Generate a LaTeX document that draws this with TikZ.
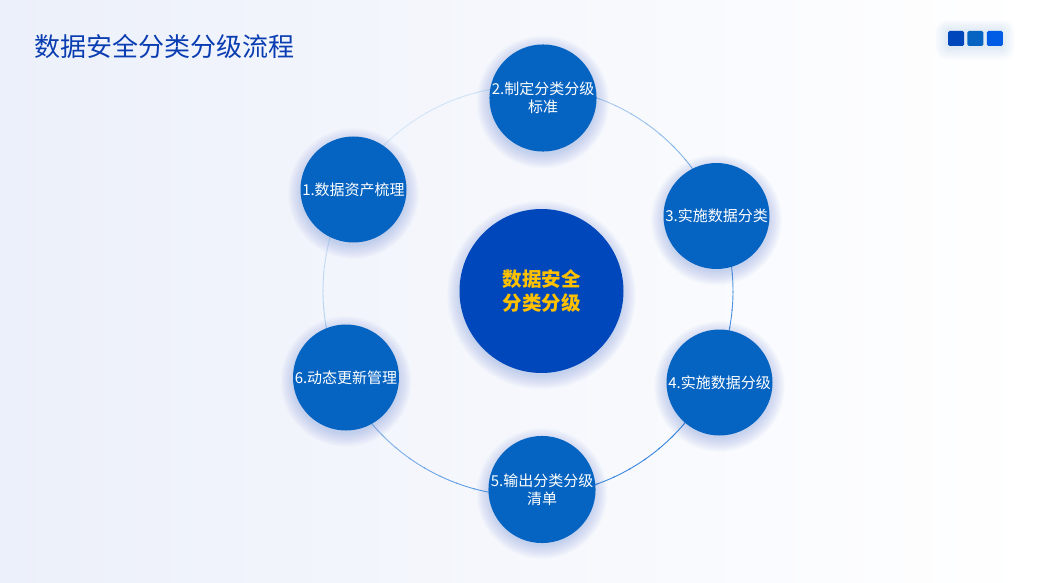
\documentclass[tikz,border=0pt]{standalone}
\usepackage{fontspec}
\setmainfont{Noto Sans CJK SC}
\usetikzlibrary{positioning}
\definecolor{titleblue}{HTML}{0A3DB2}
\definecolor{stepblue}{HTML}{0563C1}
\definecolor{coreblue}{HTML}{0047BB}
\definecolor{coreyellow}{HTML}{FFC000}
\definecolor{ringblue}{HTML}{2F7FDC}
\definecolor{bgblue}{HTML}{ECF0FA}
\definecolor{glowblue}{HTML}{2F64D0}

\begin{document}
\begin{tikzpicture}[x=1pt, y=-1pt,
    stepnode/.style={circle, fill=stepblue, minimum size=106pt, inner sep=0pt,
        text=white, align=center, font=\fontsize{15}{18}\selectfont},
    corenode/.style={circle, fill=coreblue, minimum size=164pt, inner sep=0pt,
        text=coreyellow, align=center, font=\fontsize{19.5}{24}\selectfont\bfseries},
    tagbox/.style={fill=#1, rounded corners=1.5pt, minimum width=16pt, minimum height=15pt, inner sep=0pt}]
    % Background
    \useasboundingbox (0,0) rectangle (1037,583);
    \fill[white] (0,0) rectangle (1037,583);
    \shade[left color=bgblue, right color=white] (0,0) rectangle (1037,583);

    % Title
    \node[anchor=west, text=titleblue, font=\fontsize{26}{30}\selectfont, inner sep=0pt] (title) at (34,47) {数据安全分类分级流程};

    % Tag squares
    \foreach \k in {1,...,10}
        \fill[glowblue, opacity=0.012, rounded corners=2pt+\k*1pt] (948-\k*1.3,31-\k*1.1) rectangle (1002+\k*1.3,47+\k*1.3);
    \node[tagbox=coreblue] (tag1) at (956,38.5) {};
    \node[tagbox=stepblue, right=3pt of tag1] (tag2) {};
    \node[tagbox=blue!60!cyan!90!black, right=3pt of tag2] (tag3) {};

    % Ring
    \foreach \a in {0,5,...,355} {
        \pgfmathsetmacro\mix{int(58+38*cos(\a-45))}
        \draw[ringblue!\mix!white, line width=0.9pt] (528,291) ++(\a:205) arc[start angle=\a, end angle=\a+5.5, radius=205];
    }

    % Glow
    \foreach \cx/\cy/\r in {353.5/189.5/53, 543/98/54, 716.5/216/53, 719.5/382.5/53, 542/489.5/53, 346/377.5/53, 541.5/291/82}
        \foreach \k in {1,...,16}
            \fill[glowblue, opacity=0.016] (\cx,\cy+4) circle[radius=\r-2+\k*0.9];

    % Core
    \node[corenode] (core) at (541.5,291) {数据安全\\分类分级};

    % Steps
    \node[stepnode] (s1) at (353.5,189.5) {1.数据资产梳理};
    \node[stepnode] (s2) at (543,98) {2.制定分类分级\\标准};
    \node[stepnode] (s3) at (716.5,216) {3.实施数据分类};
    \node[stepnode] (s4) at (719.5,382.5) {4.实施数据分级};
    \node[stepnode] (s5) at (542,489.5) {5.输出分类分级\\清单};
    \node[stepnode] (s6) at (346,377.5) {6.动态更新管理};
\end{tikzpicture}
\end{document}
